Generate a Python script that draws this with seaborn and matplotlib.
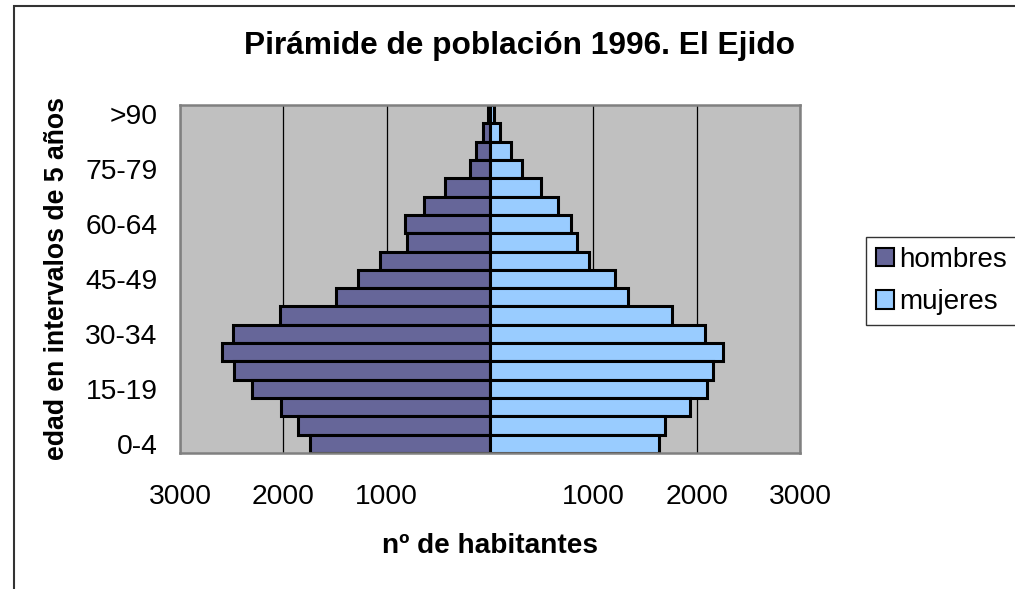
import numpy as np
import pandas as pd
import matplotlib
matplotlib.use("Agg")
import matplotlib.pyplot as plt
import seaborn as sns
from matplotlib.patches import Rectangle, Patch

# grupos de edad, de arriba (>90) hacia abajo (0-4)
edades = ['>90', '85-89', '80-84', '75-79', '70-74', '65-69', '60-64', '55-59',
          '50-54', '45-49', '40-44', '35-39', '30-34', '25-29', '20-24',
          '15-19', '10-14', '5-9', '0-4']
hombres = [15, 65, 135, 195, 435, 635, 825, 800, 1065, 1275, 1495, 2030,
           2490, 2595, 2480, 2300, 2020, 1860, 1745]
mujeres = [40, 100, 200, 310, 490, 655, 785, 845, 955, 1210, 1335, 1760,
           2085, 2250, 2155, 2100, 1940, 1690, 1640]
etiquetas_y = ['>90', '75-79', '60-64', '45-49', '30-34', '15-19', '0-4']
ticks_x = [-3000, -2000, -1000, 0, 1000, 2000, 3000]
etiquetas_x = ['3000', '2000', '1000', '', '1000', '2000', '3000']

df = pd.DataFrame({'edad': edades, 'hombres': hombres, 'mujeres': mujeres})
df['hombres_neg'] = -df['hombres']

sns.set_style('white')
plt.rcParams['font.family'] = ['Liberation Sans', 'DejaVu Sans']
plt.rcParams['text.color'] = 'black'
plt.rcParams['xtick.color'] = 'black'
plt.rcParams['ytick.color'] = 'black'

fig = plt.figure(figsize=(10.15, 5.89), dpi=100)
ax = fig.add_axes([180 / 1015, 1 - 453 / 589, 620 / 1015, 348 / 589])
ax.set_facecolor('#C0C0C0')

# rejilla vertical
for xv in ticks_x:
    ax.axvline(xv, color='black', lw=0.9, zorder=0)

lw = 2.2
sns.barplot(data=df, x='hombres_neg', y='edad', order=edades, color='#666699',
            width=1.0, edgecolor='black', linewidth=lw, saturation=1, ax=ax, zorder=2)
sns.barplot(data=df, x='mujeres', y='edad', order=edades, color='#99CCFF',
            width=1.0, edgecolor='black', linewidth=lw, saturation=1, ax=ax, zorder=2)

ax.set_xlim(-3000, 3000)
ax.set_ylim(len(edades) - 0.5, -0.5)
ax.set_xticks(ticks_x)
ax.set_xticklabels(etiquetas_x, fontsize=20.3)
ax.set_yticks([edades.index(e) for e in etiquetas_y])
ax.set_yticklabels(etiquetas_y, fontsize=20.3)
ax.tick_params(axis='x', direction='out', length=7, width=1, color='black', pad=15)
ax.tick_params(axis='y', length=0, pad=16)
ax.set_xlabel('')
ax.set_ylabel('')

for s in ax.spines.values():
    s.set_color('#808080')
    s.set_linewidth(1.8)

fig.text(490 / 1015, 1 - 546 / 589, 'nº de habitantes', ha='center', va='center',
         fontsize=20.2, fontweight='bold')
fig.text(57 / 1015, 1 - 278 / 589, 'edad en intervalos de 5 años', ha='center',
         va='center', rotation=90, fontsize=19.2, fontweight='bold')
fig.text(520 / 1015, 1 - 46 / 589, 'Pirámide de población 1996. El Ejido',
         ha='center', va='center', fontsize=22.8, fontweight='bold')

handles = [Patch(facecolor='#666699', edgecolor='black', linewidth=1.5),
           Patch(facecolor='#99CCFF', edgecolor='black', linewidth=1.5)]
leg = fig.legend(handles, ['hombres', 'mujeres'], loc='upper left',
                 bbox_to_anchor=(866 / 1015, 1 - 237 / 589), fontsize=20,
                 frameon=True, fancybox=False, handlelength=0.65, handleheight=0.65,
                 handletextpad=0.2, borderpad=0.35, labelspacing=0.6,
                 borderaxespad=0)
leg.get_frame().set_edgecolor('black')
leg.get_frame().set_linewidth(1)

# marco exterior del gráfico
fig.patches.append(Rectangle((14 / 1015, -0.05), 1.1, 1 - 6 / 589 + 0.05,
                             transform=fig.transFigure, fill=False,
                             edgecolor='#333333', linewidth=1.5))

fig.savefig('out.png', dpi=100, facecolor='white')
